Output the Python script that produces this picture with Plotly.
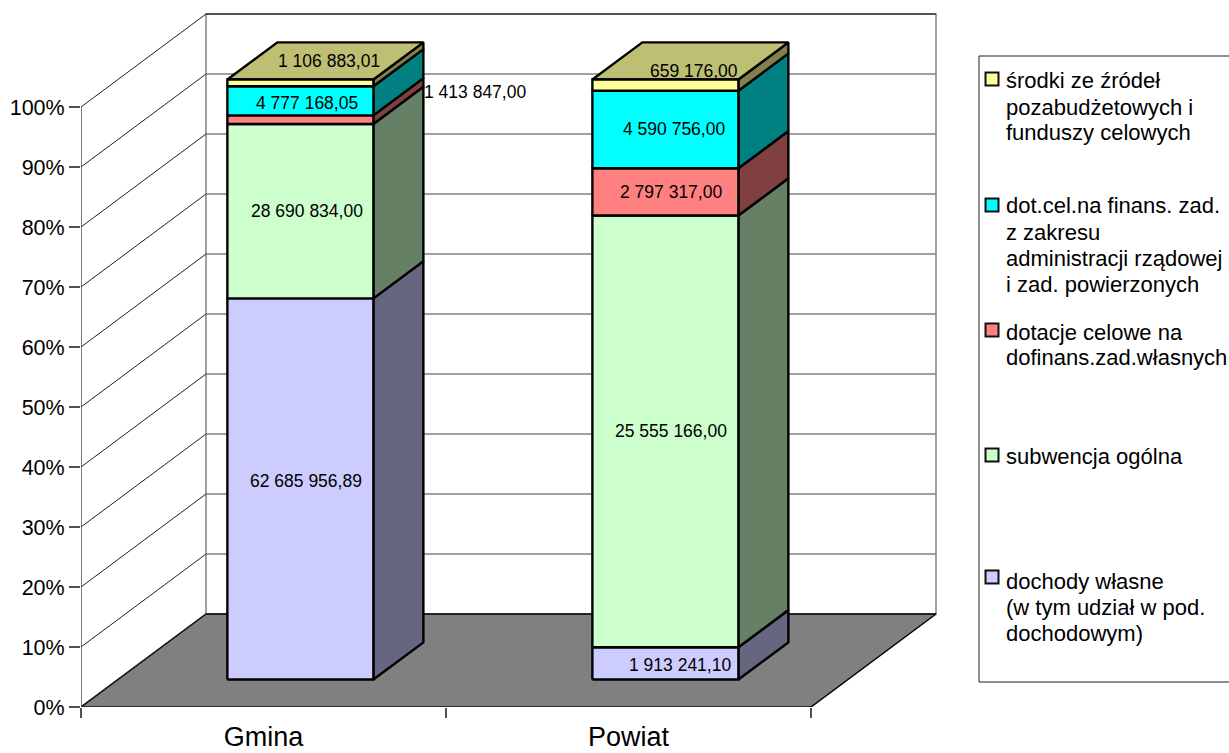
import plotly.graph_objects as go

categories = ["Gmina", "Powiat"]
series_names = ["dochody własne", "subwencja ogólna", "dotacje celowe", "dot.cel. zadania zlecone", "środki pozabudżetowe"]
gmina_values = [62685956.89, 28690834.00, 1413847.00, 4777168.05, 1106883.01]
powiat_values = [1913241.10, 25555166.00, 2797317.00, 4590756.00, 659176.00]
gmina_labels = ["62 685 956,89", "28 690 834,00", "1 413 847,00", "4 777 168,05", "1 106 883,01"]
powiat_labels = ["1 913 241,10", "25 555 166,00", "2 797 317,00", "4 590 756,00", "659 176,00"]
front_colors = ["#CCCCFF", "#CCFFCC", "#FF8080", "#00FFFF", "#FFFF99"]
side_colors = ["#666680", "#668066", "#804040", "#008080", "#80804D"]
top_colors = ["#9999BF", "#99BF99", "#BF6060", "#00BFBF", "#BFBF73"]
pct_ticks = [0, 10, 20, 30, 40, 50, 60, 70, 80, 90, 100]
legend_entries = [
    "środki ze źródeł<br>pozabudżetowych i<br>funduszy celowych",
    "dot.cel.na finans. zad.<br>z zakresu<br>administracji rządowej<br>i zad. powierzonych",
    "dotacje celowe na<br>dofinans.zad.własnych",
    "subwencja ogólna",
    "dochody własne<br>(w tym udział w pod.<br>dochodowym)",
]
legend_colors = ["#FFFF99", "#00FFFF", "#FF8080", "#CCFFCC", "#CCCCFF"]

# projection layout
W, H = 1229, 753
PAGE_H = H + 40              # taller canvas; the window crops it so that the axis labels need no extra margin
X0_PX, Y0_PX = 81, 707       # front origin of the axes in pixels
CAT_PX, PCT_PX = 365, 6.0    # pixels per category / per percent
DX, DY = 125 / CAT_PX, 93 / PCT_PX   # full depth in data units
D0, D1 = 0.295, 0.695        # bar front/back depth
BAR_W = 0.4
FONT = "Liberation Sans, Arial, sans-serif"


def proj(x, y, d):
    return x + d * DX, y + d * DY


def poly(points, fill, line_color="black", width=2.4, name=None):
    xs = [p[0] for p in points] + [points[0][0]]
    ys = [p[1] for p in points] + [points[0][1]]
    return go.Scatter(x=xs, y=ys, mode="lines", fill="toself", fillcolor=fill,
                      line=dict(color=line_color, width=width), name=name,
                      hoverinfo="name" if name else "skip", showlegend=False)


def segments(xs, ys, color, width):
    return go.Scatter(x=xs, y=ys, mode="lines", line=dict(color=color, width=width),
                      hoverinfo="skip", showlegend=False)


fig = go.Figure()
n = len(categories)

# walls and floor
fig.add_trace(poly([proj(0, 0, 1), proj(n, 0, 1), proj(n, 100, 1), proj(0, 100, 1)], "white", "#808080", 1.5))
fig.add_trace(poly([proj(0, 0, 0), proj(n, 0, 0), proj(n, 0, 1), proj(0, 0, 1)], "#808080", "black", 1.5))

# grid lines: diagonal on the side wall, horizontal on the back wall
diag_x, diag_y, back_x, back_y = [], [], [], []
for t in pct_ticks:
    a, b, c = proj(0, t, 0), proj(0, t, 1), proj(n, t, 1)
    diag_x += [a[0], b[0], None]
    diag_y += [a[1], b[1], None]
    if t > 0:
        back_x += [b[0], c[0], None]
        back_y += [b[1], c[1], None]
fig.add_trace(segments(back_x, back_y, "#808080", 1.5))
fig.add_trace(segments(diag_x, diag_y, "#222222", 1))
top_l, top_r = proj(0, 100, 1), proj(n, 100, 1)
fig.add_trace(segments([top_l[0], top_r[0]], [top_l[1], top_r[1]], "#404040", 1.5))
fig.add_trace(segments([0, 0], [0, 100], "#505050", 1.5))
fig.add_trace(segments([0, n], [0, 0], "#303030", 1.5))

# bars
all_values = [gmina_values, powiat_values]
all_labels = [gmina_labels, powiat_labels]
label_shift_px = [
    [(6, -8), (7, 0), (175, -28), (7, 2), (29, -22)],
    [(15, 2), (6, 0), (6, 0), (9, 0), (29, -14)],
]
for c, vals in enumerate(all_values):
    total = sum(vals)
    left = c + 0.5 - BAR_W / 2
    right = c + 0.5 + BAR_W / 2
    base = 0.0
    for s, v in enumerate(vals):
        pct = v / total * 100
        lo, hi = base, base + pct
        fig.add_trace(poly([proj(right, lo, D0), proj(right, lo, D1), proj(right, hi, D1), proj(right, hi, D0)],
                           side_colors[s]))
        if s == len(vals) - 1:
            fig.add_trace(poly([proj(left, hi, D0), proj(right, hi, D0), proj(right, hi, D1), proj(left, hi, D1)],
                               top_colors[s]))
        fig.add_trace(poly([proj(left, lo, D0), proj(right, lo, D0), proj(right, hi, D0), proj(left, hi, D0)],
                           front_colors[s], name=f"{categories[c]} – {series_names[s]}"))
        mx, my = proj((left + right) / 2, (lo + hi) / 2, D0)
        dx, dy = label_shift_px[c][s]
        fig.add_annotation(x=mx, y=my, text=all_labels[c][s], showarrow=False, xshift=dx, yshift=-dy,
                           xanchor="center", yanchor="middle", font=dict(family=FONT, size=17.5, color="black"))
        base = hi


# legend (pixel placed, clipped at the right of the page as in the reference)
def px(x):
    return (x - X0_PX) / (W - X0_PX)


def py(y):
    return (Y0_PX - y) / Y0_PX


fig.add_shape(type="rect", xref="paper", yref="paper", x0=px(979), x1=px(W + 5), y0=py(682), y1=py(56),
              line=dict(color="#202020", width=1), fillcolor="white", layer="above")
swatch_centers = [79, 205, 330, 455, 577]
text_first_line = [81, 206, 332, 456, 581]
LINE_H = 26
for i, entry in enumerate(legend_entries):
    yc = swatch_centers[i]
    fig.add_shape(type="rect", xref="paper", yref="paper", x0=px(985.5), x1=px(998.5), y0=py(yc + 6.5), y1=py(yc - 6.5),
                  line=dict(color="#101010", width=2), fillcolor=legend_colors[i], layer="above")
    for j, line in enumerate(entry.split("<br>")):
        fig.add_annotation(xref="paper", yref="paper", x=px(1004), y=py(text_first_line[i] + j * LINE_H), text=line,
                           showarrow=False, xanchor="left", yanchor="middle", xshift=0,
                           font=dict(family=FONT, size=22, color="black"))

fig.update_layout(
    width=W, height=PAGE_H,
    margin=dict(l=X0_PX, r=0, t=0, b=PAGE_H - Y0_PX, pad=0),
    paper_bgcolor="white", plot_bgcolor="white",
    showlegend=False,
    xaxis=dict(range=[0, (W - X0_PX) / CAT_PX], tickmode="array",
               tickvals=[i + 0.5 for i in range(n)], ticktext=categories, ticks="",
               showgrid=False, zeroline=False, showline=False, ticklabelstandoff=11,
               tickfont=dict(family=FONT, size=27, color="black"),
               minor=dict(tickmode="array", tickvals=list(range(n + 1)), ticks="outside", ticklen=10,
                          tickcolor="#505050", tickwidth=1.5, showgrid=False)),
    yaxis=dict(range=[0, Y0_PX / PCT_PX], tickmode="array", tickvals=pct_ticks,
               ticktext=[f"{t}%" for t in pct_ticks], ticks="outside", ticklen=11,
               tickcolor="#505050", tickwidth=1.5, showgrid=False, zeroline=False, showline=False,
               tickfont=dict(family=FONT, size=21.5, color="black")),
)

fig.write_html("out.html", config={"displayModeBar": False, "responsive": False},
               post_script="document.body.style.margin='0';document.body.style.overflow='hidden';document.documentElement.style.overflow='hidden';")
